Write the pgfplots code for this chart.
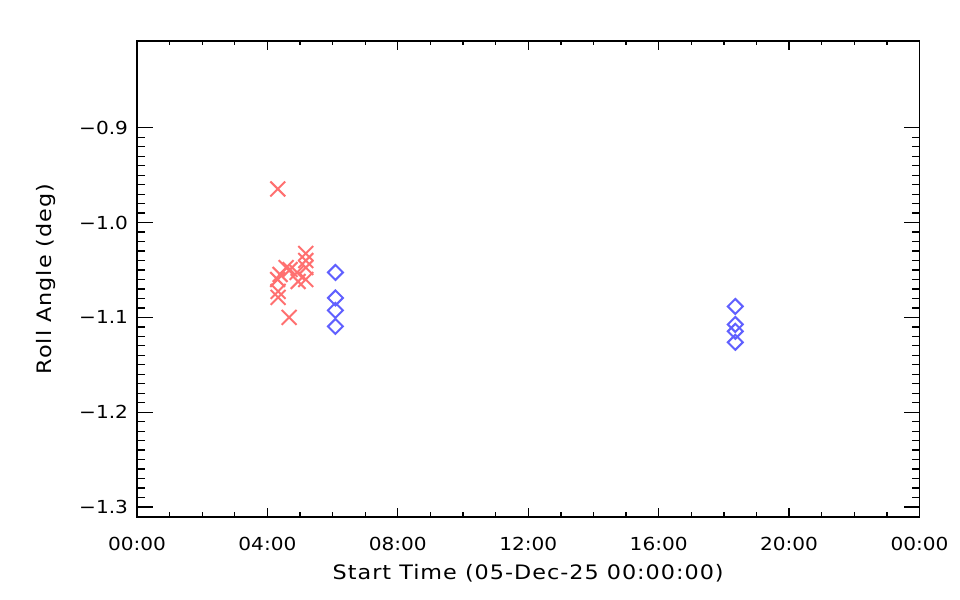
\documentclass[border=0pt]{standalone}
\usepackage{fontspec}
\setmainfont{DejaVu Sans}[FakeStretch=1.12]
\usepackage{pgfplots}
\pgfplotsset{compat=1.18}
\definecolor{redx}{RGB}{255,112,112}
\definecolor{blued}{RGB}{96,96,255}
\begin{document}
\fontsize{17.5}{20}\selectfont
\begin{tikzpicture}
\path[use as bounding box] (-137bp,-83bp) rectangle (823.1bp,517bp);
\begin{axis}[
  at={(0,0)}, anchor=south west,
  scale only axis, width=782.6bp, height=476bp,
  xmin=0, xmax=24, ymin=-1.3105, ymax=-0.8084,
  axis line style={line width=1.3bp},
  tick style={line width=1.3bp, black},
  tick align=inside,
  xtick={0,4,8,12,16,20,24},
  xticklabels={00:00,04:00,08:00,12:00,16:00,20:00,00:00},
  minor xtick={1,2,3,5,6,7,9,10,11,13,14,15,17,18,19,21,22,23},
  ytick={-1.3,-1.2,-1.1,-1.0,-0.9},
  yticklabels={−1.3,−1.2,−1.1,−1.0,−0.9},
  minor y tick num=9,
  xtick style={/pgfplots/major tick length=9bp,/pgfplots/minor tick length=4.5bp},
  ytick style={/pgfplots/major tick length=16bp,/pgfplots/minor tick length=8bp},
  xticklabel style={font=\fontsize{18}{20}\selectfont, yshift=-14bp},
  yticklabel style={font=\fontsize{18}{20}\selectfont, xshift=-3bp},
  xlabel={Start Time (05-Dec-25 00:00:00)},
  ylabel={Roll Angle (deg)},
  xlabel style={font=\fontsize{20}{22}\selectfont\addfontfeature{LetterSpace=5}, yshift=-2bp},
  ylabel style={font=\fontsize{20}{22}\selectfont\addfontfeature{LetterSpace=5}, yshift=12bp},
  clip=false,
]
\addplot[only marks, mark=x, mark size=10.5bp, color=redx, mark options={line width=2bp}] coordinates {
(4.319,-0.9645)
(5.178,-1.0326)
(5.178,-1.0400)
(5.178,-1.0474)
(4.696,-1.0495)
(4.574,-1.0474)
(4.911,-1.0526)
(5.178,-1.0600)
(4.390,-1.0547)
(4.313,-1.0600)
(4.328,-1.0726)
(4.328,-1.0789)
(4.666,-1.1000)
(4.942,-1.0621)
};
\addplot[only marks, mark=square, mark size=5.3bp, color=blued, mark options={line width=2bp, rotate=45}] coordinates {
(6.086,-1.0526)
(6.086,-1.0795)
(6.086,-1.0926)
(6.086,-1.1095)
(18.35,-1.0884)
(18.35,-1.1074)
(18.35,-1.1147)
(18.35,-1.1263)
};
\end{axis}
\end{tikzpicture}
\end{document}
